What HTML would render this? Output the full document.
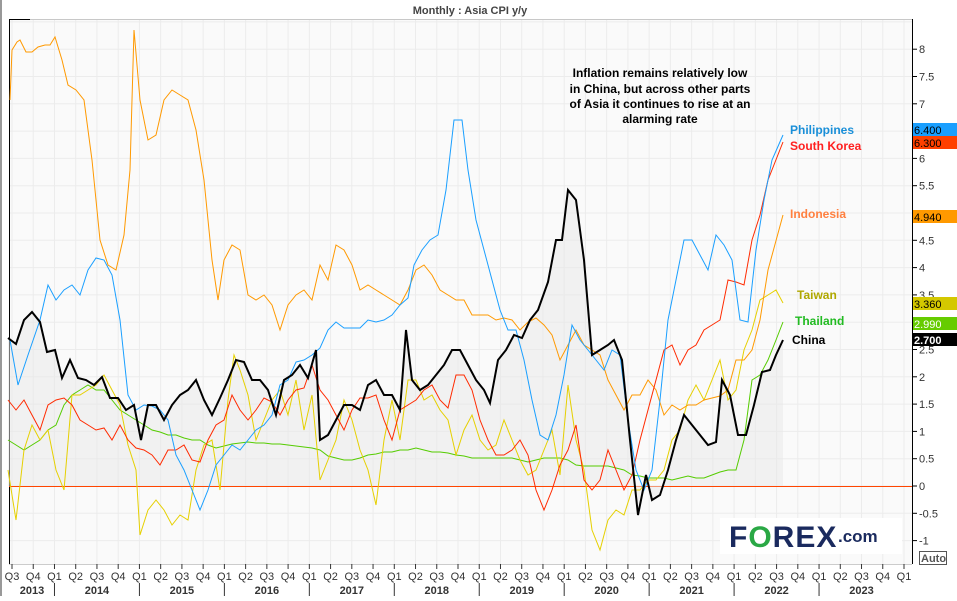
<!DOCTYPE html>
<html><head><meta charset="utf-8"><style>
body{margin:0;width:957px;height:596px;overflow:hidden;background:#fff;font-family:"Liberation Sans",sans-serif}
</style></head><body>
<svg width="957" height="596" xmlns="http://www.w3.org/2000/svg" font-family="Liberation Sans, sans-serif">
<rect x="0" y="0" width="2" height="596" fill="#999"/>
<rect x="9" y="19" width="903" height="545" fill="#fafafa"/>
<g stroke="#ececec" stroke-width="1" id="grid"></g>
<line x1="9" y1="19.5" x2="912" y2="19.5" stroke="#c8c8c8"/>
<line x1="9.5" y1="19" x2="9.5" y2="564" stroke="#000"/>
<line x1="9" y1="19.5" x2="30" y2="19.5" stroke="#000"/>
<line x1="912.5" y1="19" x2="912.5" y2="564" stroke="#000"/>
<line x1="9" y1="564.5" x2="912" y2="564.5" stroke="#ccc"/>
<line x1="9" y1="486.5" x2="912" y2="486.5" stroke="#ff4500" stroke-width="1"/>
<text x="470" y="14" font-size="11" font-weight="bold" fill="#444" text-anchor="middle">Monthly : Asia CPI y/y</text>
<g id="chinafill"></g>
<g fill="none" stroke-width="1" id="series"></g>
<g font-size="12" font-weight="bold" fill="#000" text-anchor="middle">
<text x="660" y="77">Inflation remains relatively low</text>
<text x="660" y="93">in China, but across other parts</text>
<text x="660" y="108">of Asia it continues to rise at an</text>
<text x="660" y="123">alarming rate</text>
</g>
<g font-size="12" font-weight="bold">
<text x="790" y="134" fill="#1a8fd8">Philippines</text>
<text x="790" y="150" fill="#ff2020">South Korea</text>
<text x="790" y="218" fill="#ff8040">Indonesia</text>
<text x="797" y="299" fill="#b0a800">Taiwan</text>
<text x="795" y="325" fill="#22bb22">Thailand</text>
<text x="792" y="344" fill="#000">China</text>
</g>
<g id="yax" font-size="11" fill="#333"></g>
<g font-size="11">
<rect x="913" y="123" width="44" height="13" fill="#1a9fff"/><text x="914" y="134">6.400</text>
<rect x="913" y="136" width="44" height="13" fill="#ff4000"/><text x="914" y="147">6.300</text>
<rect x="913" y="210" width="44" height="13" fill="#ff9900"/><text x="914" y="221">4.940</text>
<rect x="913" y="297" width="44" height="13" fill="#d4c800"/><text x="914" y="308">3.360</text>
<rect x="913" y="317" width="44" height="13" fill="#66cc00"/><text x="914" y="328" fill="#fff">2.990</text>
<rect x="913" y="333" width="44" height="13" fill="#000"/><text x="914" y="344" fill="#fff" font-weight="bold">2.700</text>
</g>
<g id="xax" font-size="11" fill="#333"></g>
<rect x="720" y="518" width="182" height="36" fill="#fff"/>
<text x="729" y="547" font-size="30" font-weight="bold" fill="#1a2a5e" letter-spacing="1">F<tspan fill="#2aa845">O</tspan>REX</text>
<text x="838" y="542" font-size="17" font-weight="bold" fill="#1a2a5e">.com</text>
<rect x="919.5" y="551.5" width="27" height="13" fill="#fff" stroke="#555"/>
<text x="921" y="562" font-size="11" font-weight="bold" fill="#555">Auto</text>
</svg>
<script>
const NS="http://www.w3.org/2000/svg";
function el(p,t,a,txt){const e=document.createElementNS(NS,t);for(const k in a)e.setAttribute(k,a[k]);if(txt!==undefined)e.textContent=txt;document.getElementById(p).appendChild(e);return e;}
for(let v=-1;v<=8.5;v+=0.5){const y=486-v*54.6;if(y>20&&y<564)el("grid","line",{x1:9,x2:912,y1:y,y2:y});}
const q0=12;const qw=892/42;
for(let i=0;i<=42;i++){const x=q0+i*qw;if(x>10&&x<912)el("grid","line",{x1:x,x2:x,y1:20,y2:564});}
for(let v=-1;v<=8;v+=0.5){if(v==6.5||v==5||v==3)continue;const y=486-v*54.6;el("yax","line",{x1:912,x2:917,y1:y,y2:y,stroke:"#000"});el("yax","text",{x:919,y:y+4},String(v));}
const qs=["Q3","Q4","Q1","Q2"];
for(let i=0;i<=42;i++){const x=q0+i*qw;el("xax","line",{x1:x,x2:x,y1:564,y2:569,stroke:"#333"});el("xax","text",{x:x,y:580,"text-anchor":"middle"},qs[i%4]);}
for(let yr=2013;yr<=2023;yr++){const xs=q0+(2+(yr-2014)*4)*qw, xe=xs+4*qw;el("xax","text",{x:(yr==2013?32:(xs+xe)/2),y:594,"text-anchor":"middle","font-weight":"bold"},String(yr));if(yr>2013)el("xax","line",{x1:xs,x2:xs,y1:583,y2:596,stroke:"#333"});}
const S={
china:["#000",2,"8,338 16,344 24,320 32,312 40,322 47,352 55,350 62,378 70,360 78,378 86,380 94,385 102,377 110,398 118,398 126,410 134,405 141,440 148,405 156,405 164,420 172,405 180,395 188,390 196,380 204,400 212,415 220,398 228,380 236,360 244,362 252,380 260,380 268,390 276,415 284,380 292,375 300,365 308,378 316,350 320,440 328,435 336,420 344,405 352,405 360,410 368,385 376,380 384,395 392,395 400,410 406,330 412,380 420,390 428,385 436,375 444,365 452,350 460,350 468,365 476,380 484,390 490,403 498,360 506,350 514,335 522,338 530,320 538,310 548,282 556,240 562,240 568,190 576,200 584,260 592,355 600,350 608,345 614,340 622,360 630,440 638,515 646,475 652,500 660,495 668,470 676,440 684,415 692,425 700,435 708,445 716,442 722,380 730,395 738,435 746,435 754,405 762,372 770,370 776,355 783,340"],
phil:["#1a9fff",1,"10,340 18,385 28,355 40,320 48,285 56,300 64,290 72,285 80,295 88,270 96,258 104,260 112,275 120,320 128,395 136,410 144,405 152,406 160,410 168,420 176,455 184,470 192,490 200,510 208,490 216,465 224,455 232,445 240,450 248,440 256,430 264,425 272,415 280,385 288,380 296,362 304,360 312,355 320,348 328,330 336,322 344,328 352,328 360,328 368,320 376,322 384,320 392,315 400,305 408,298 414,265 422,250 430,240 438,235 446,190 454,120 462,120 468,170 476,220 484,250 492,280 500,310 508,330 516,330 524,360 532,400 540,435 548,440 556,415 564,375 572,325 580,340 588,350 596,360 604,370 612,350 620,355 628,420 636,470 644,490 652,470 660,400 668,320 676,280 684,240 692,240 700,255 708,270 716,235 724,245 732,260 740,320 748,322 756,250 764,200 772,160 783,135"],
kor:["#ff2a00",1,"8,400 16,410 24,400 32,415 40,430 48,405 56,400 64,398 72,405 80,420 88,425 96,430 104,428 112,440 120,425 128,440 136,448 144,450 152,455 160,465 168,450 176,450 184,445 192,460 200,462 208,440 216,425 224,420 232,395 240,410 248,420 256,410 264,398 272,402 280,415 288,400 296,390 304,388 312,365 320,390 328,400 336,415 344,430 352,410 360,398 368,398 376,395 384,420 392,440 400,410 408,405 416,400 424,390 432,385 440,400 448,408 456,375 464,375 472,390 480,420 488,440 496,455 504,455 512,450 520,440 528,455 536,490 544,510 552,490 560,465 568,450 576,425 584,480 592,490 600,480 608,450 616,470 624,490 632,475 640,440 648,410 656,380 664,350 672,345 680,365 688,350 696,345 704,330 712,325 720,320 728,280 736,282 744,285 752,240 760,215 768,180 783,142"],
indo:["#ff9900",1,"10,100 12,50 17,42 20,40 26,52 32,52 38,47 45,45 50,45 55,37 62,60 68,85 76,90 84,100 92,160 100,240 108,265 116,270 124,235 130,170 134,30 140,100 148,140 156,135 164,100 172,90 180,95 188,100 196,130 204,180 212,260 218,300 224,260 232,245 240,250 248,295 256,300 264,295 272,305 280,330 288,305 296,295 304,290 312,300 320,265 328,280 336,245 344,250 352,265 360,290 368,285 376,290 384,295 392,300 400,305 408,290 416,270 424,265 432,275 440,290 448,295 456,300 464,300 472,315 480,315 488,315 496,320 504,318 512,320 520,330 528,322 536,318 544,325 552,335 560,360 568,345 576,330 584,345 592,350 600,355 608,380 616,395 624,410 632,395 640,395 648,380 656,390 664,415 672,405 680,410 688,405 696,405 704,400 712,398 720,396 728,390 736,360 744,360 752,350 760,320 768,270 783,215"],
tw:["#e6d000",1,"8,470 16,520 24,450 32,425 40,440 48,430 56,470 64,490 72,395 80,395 88,390 96,385 104,375 112,390 120,405 128,445 136,470 140,535 148,510 156,500 164,510 172,525 180,515 188,520 196,470 204,445 212,440 220,490 228,400 234,355 240,370 248,395 256,440 264,420 272,400 280,390 288,415 296,380 304,430 312,395 320,480 328,460 336,440 344,400 352,420 360,450 368,470 376,505 384,440 392,400 400,440 408,380 416,380 424,400 432,395 440,410 448,420 456,455 464,430 472,415 480,440 488,450 496,445 504,420 512,440 520,460 528,475 536,470 544,450 552,430 560,475 568,385 576,440 584,470 592,530 600,550 608,520 616,510 624,515 632,490 640,490 648,480 656,480 664,470 672,440 680,430 688,400 696,385 704,400 712,380 720,360 728,400 736,390 744,350 752,330 760,300 768,295 776,290 783,303"],
th:["#55cc00",1,"8,440 16,445 24,450 32,445 40,440 48,430 56,425 64,405 72,395 80,390 88,385 96,390 104,390 112,400 120,410 128,415 136,420 144,425 152,430 160,432 168,435 176,435 184,438 192,440 200,440 208,445 216,448 224,446 232,444 240,443 248,442 256,443 264,443 272,444 280,444 288,445 296,446 304,447 312,448 320,450 328,456 336,458 344,460 352,460 360,458 368,455 376,454 384,452 392,452 400,450 408,450 416,448 424,450 432,452 440,452 448,453 456,455 464,456 472,458 480,458 488,458 496,458 504,458 512,458 520,460 528,462 536,460 544,458 552,458 560,458 568,460 576,465 584,466 592,466 600,466 608,466 616,468 624,470 632,475 640,476 648,478 656,478 664,478 672,480 680,478 688,476 696,478 704,478 712,475 720,472 728,470 736,470 744,440 752,380 760,375 768,360 776,340 783,322"]};
el("chinafill","polygon",{points:"8,486 "+S.china[2]+" 783,486",fill:"#e8e8e8","fill-opacity":"0.5"});
for(const k of ["th","tw","indo","kor","phil","china"]){const s=S[k];el("series","polyline",{points:s[2],stroke:s[0],"stroke-width":s[1]});}
</script>
</body></html>
